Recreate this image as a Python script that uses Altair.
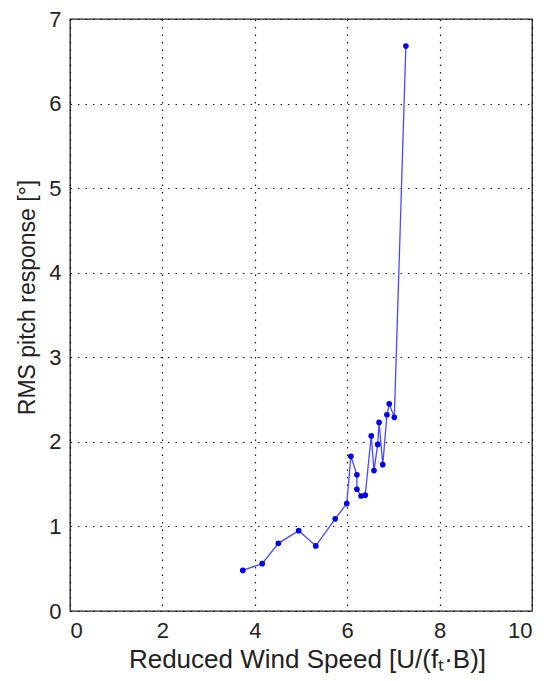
import altair as alt
import pandas as pd

speed = [3.74, 4.16, 4.51, 4.95, 5.32, 5.74, 5.99, 6.08, 6.21, 6.21, 6.30, 6.39,
         6.52, 6.58, 6.66, 6.69, 6.77, 6.86, 6.91, 7.02, 7.27]
rms = [0.48, 0.56, 0.80, 0.95, 0.77, 1.09, 1.27, 1.83, 1.61, 1.44, 1.36, 1.37,
       2.07, 1.66, 1.97, 2.23, 1.73, 2.32, 2.45, 2.29, 6.68]
order = list(range(len(speed)))

df = pd.DataFrame({"x": speed, "y": rms, "o": order})

xenc = alt.X("x:Q", scale=alt.Scale(domain=[0, 10]),
             axis=alt.Axis(values=[0, 2, 4, 6, 8, 10], title="Reduced Wind Speed [U/(fₜ·B)]",
                           titleFontSize=26, labelPadding=9, titlePadding=5, titleX=237))
yenc = alt.Y("y:Q", scale=alt.Scale(domain=[0, 7]),
             axis=alt.Axis(values=[0, 1, 2, 3, 4, 5, 6, 7], title="RMS pitch response [°]",
                           titleFontSize=23, labelPadding=9, titlePadding=9, titleY=278))

base = alt.Chart(df).encode(x=xenc, y=yenc, order="o:Q")
line = base.mark_line(color="#4a4aff", strokeWidth=1.3)
pts = base.mark_point(filled=True, color="#0000ee", size=32, shape="circle", opacity=1)

chart = (line + pts).properties(
    width=462, height=592,
    autosize=alt.AutoSizeParams(type="none"),
    padding={"left": 62, "top": 11, "right": 5, "bottom": 68},
).configure_view(stroke="#222", strokeWidth=1.3).configure_axis(
    grid=True, gridColor="black", gridDash=[1.5, 6], gridOpacity=0.9, gridWidth=1.2,
    domain=False, ticks=False,
    labelFont="Liberation Sans", labelFontSize=22, labelColor="#222",
    titleFont="Liberation Sans", titleFontWeight="normal", titleColor="#222",
)

chart.save("out.html", embed_options={"renderer": "svg", "actions": False})
